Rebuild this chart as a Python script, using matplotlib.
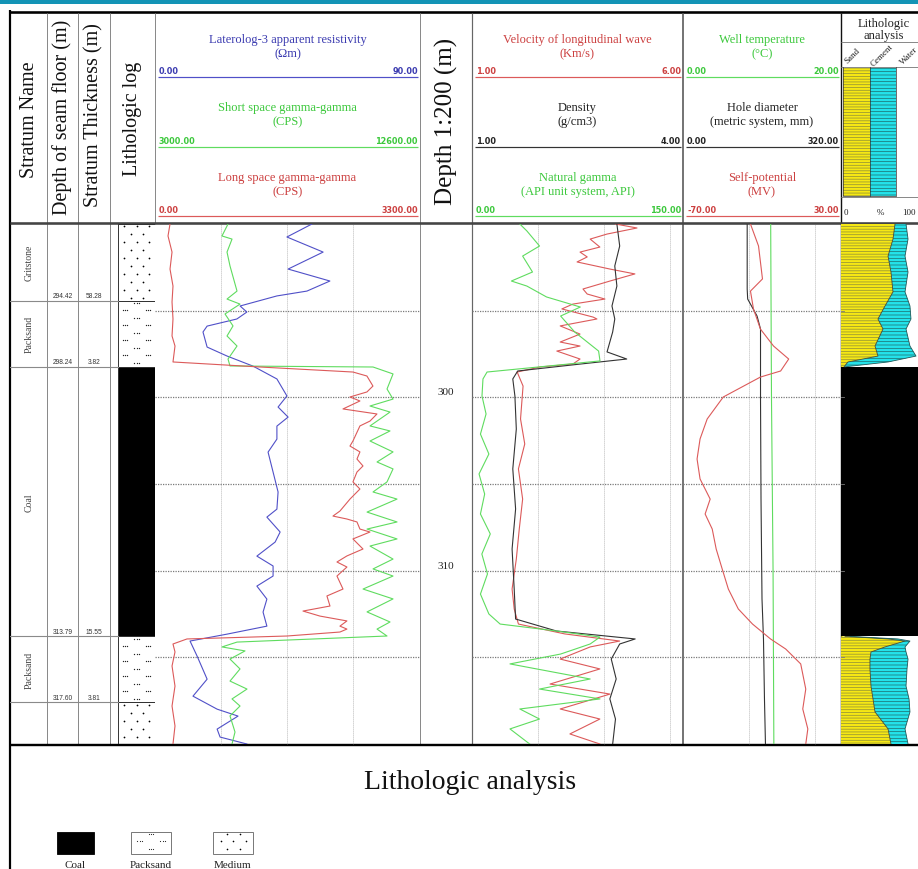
import numpy as np
import matplotlib
matplotlib.use('Agg')
import matplotlib.pyplot as plt
from matplotlib.patches import Rectangle
import matplotlib.transforms as mtransforms

plt.rcParams['font.family'] = ['Liberation Serif', 'DejaVu Serif']
plt.rcParams['hatch.linewidth'] = 0.5

# ---------------------------------------------------------------- data
DEPTH_RANGE = [290.0, 320.0]
GRID_DEPTHS = [295, 300, 305, 310, 315]
DEPTH_LABELS = [300, 310]

STRATA_NAMES = ['Gritstone', 'Packsand', 'Coal', 'Packsand', '']
STRATA_BOTTOM = [294.42, 298.24, 313.79, 317.60, 320.00]
STRATA_THICK = [58.28, 3.82, 15.55, 3.81, None]
STRATA_LITHO = ['Medium', 'Packsand', 'Coal', 'Packsand', 'Medium']
LEGEND_LITHO = ['Coal', 'Packsand', 'Medium']

# Track 1 -------------------------------------------------------------
RES_RANGE = [0.0, 90.0]
RES_DEPTH = [290.0, 290.75, 291.62, 292.6, 293.29, 293.87, 294.15, 294.73, 295.08, 295.48,
             295.89, 296.23, 297.1, 297.62, 298.2, 298.94, 299.92, 300.56, 301.14, 301.66,
             302.41, 303.16, 304.31, 305.46, 306.45, 306.91, 307.77, 308.35, 309.16, 309.73,
             310.31, 310.89, 311.64, 312.39, 313.2, 313.66, 314.06, 314.93, 316.26, 317.24,
             317.99, 318.39, 319.14, 319.6, 320.0]
RES = [53.3, 44.8, 57.1, 45.2, 59.4, 51.6, 41.4, 28.9, 31.2, 27.8,
       17.7, 16.3, 17.7, 24.5, 33.3, 41.4, 44.8, 41.8, 45.2, 41.4,
       41.4, 38.4, 40.1, 41.8, 41.4, 38.0, 42.5, 40.8, 34.6, 40.1,
       40.1, 34.6, 38.0, 36.7, 38.0, 24.5, 11.9, 14.3, 17.7, 12.9,
       21.1, 28.2, 21.1, 22.1, 31.2]

SGG_RANGE = [3000.0, 12600.0]
SGG_DEPTH = [290.0, 290.69, 290.87, 291.62, 292.42, 293.87, 294.33, 294.62, 295.19, 295.88,
             296.46, 297.04, 297.79, 298.19, 298.25, 298.65, 299.52, 300.10, 300.50, 300.85,
             301.65, 301.94, 302.52, 303.15, 303.73, 304.13, 304.88, 305.46, 305.87, 306.62,
             307.19, 307.60, 308.17, 308.58, 309.33, 309.90, 310.31, 311.06, 311.63, 312.38,
             312.96, 313.37, 313.77, 314.12, 314.40, 314.63, 315.10, 315.67, 316.37, 316.83,
             317.40, 317.81, 318.38, 319.31, 320.0]
SGG = [5645, 5427, 5790, 5609, 5717, 5971, 5609, 6080, 5536, 5826,
       5609, 5971, 5645, 5717, 10898, 11623, 11405, 11623, 10789, 11514,
       10789, 11514, 10789, 11623, 11043, 11623, 11405, 10898, 11768, 10681,
       11768, 10681, 11768, 10789, 11623, 10898, 11623, 10536, 11623, 10681,
       11514, 11043, 11405, 5971, 5427, 6261, 5717, 6080, 5717, 6333,
       5790, 6080, 5717, 5898, 5790]

LGG_RANGE = [0.0, 3300.0]
LGG_DEPTH = [290.0, 290.69, 291.62, 292.6, 293.58, 294.5, 295.48, 296.46, 297.04, 297.96,
             298.25, 298.54, 298.77, 299.35, 299.69, 299.98, 300.21, 300.67, 300.96, 301.37,
             301.65, 302.52, 302.81, 303.15, 303.56, 303.96, 304.31, 304.88, 305.29, 305.87,
             306.56, 306.85, 307.02, 307.19, 307.6, 307.77, 308.17, 308.75, 309.15, 309.5,
             309.79, 310.31, 311.06, 311.46, 312.04, 312.33, 312.62, 312.9, 313.2, 313.37,
             313.54, 313.77, 313.94, 314.23, 314.69, 315.5, 316.66, 317.81, 318.96, 320.0]
LGG = [187, 162, 212, 187, 224, 212, 224, 212, 249, 224,
       1307, 2465, 2639, 2714, 2639, 2428, 2552, 2341, 2764, 2677,
       2552, 2465, 2428, 2552, 2515, 2590, 2515, 2465, 2552, 2428,
       2303, 2216, 2390, 2515, 2552, 2677, 2465, 2590, 2390, 2266,
       2390, 2266, 2341, 2141, 2179, 1843, 2054, 2390, 2303, 2390,
       2303, 1643, 398, 224, 249, 212, 249, 212, 249, 224]

# Track 2 -------------------------------------------------------------
VEL_RANGE = [1.0, 6.0]
VEL_DEPTH = [290.0, 290.23, 290.58, 290.87, 291.33, 291.62, 291.9, 292.19, 292.6, 292.88,
             293.29, 293.75, 294.04, 294.33, 294.62, 294.9, 295.37, 295.48, 295.88, 296.35,
             296.81, 297.04, 297.33, 297.79, 298.08, 298.25, 298.54, 299.35, 299.98, 301.25,
             302.69, 304.13, 305.87, 307.6, 309.33, 311.06, 312.21, 313.08, 313.65, 314.06,
             314.4, 315.1, 315.67, 316.54, 317.12, 317.98, 318.56, 319.42, 320.0]
VEL = [4.4, 4.91, 4.2, 3.8, 4.03, 3.56, 3.73, 3.49, 4.27, 4.86,
       4.27, 3.63, 3.73, 4.15, 3.39, 3.13, 3.87, 3.96, 3.09, 3.56,
       3.09, 3.56, 3.01, 3.56, 3.39, 2.61, 2.07, 2.21, 2.19, 2.15,
       2.25, 2.1, 2.2, 2.12, 2.05, 1.95, 2.0, 2.1, 3.2, 4.5,
       3.8, 3.09, 4.03, 2.85, 4.27, 3.09, 4.03, 3.32, 4.03]

DEN_RANGE = [1.0, 4.0]
DEN_DEPTH = [290.0, 291.27, 292.42, 293.58, 294.73, 295.48, 296.23, 297.38, 297.79, 298.08,
             298.48, 298.94, 299.92, 301.83, 304.13, 306.44, 308.75, 311.06, 312.79, 313.48,
             313.94, 314.23, 315.1, 316.25, 317.4, 318.56, 320.0]
DEN = [3.06, 3.1, 3.03, 3.06, 2.99, 3.03, 3.0, 2.92, 3.2, 2.54,
       1.65, 1.58, 1.61, 1.63, 1.58, 1.62, 1.57, 1.6, 1.62, 2.2,
       3.32, 3.1, 2.98, 3.05, 2.96, 3.04, 3.0]

NGR_RANGE = [0.0, 150.0]
NGR_DEPTH = [290.0, 290.4, 291.27, 291.85, 292.77, 293.29, 293.58, 294.21, 294.5, 294.79,
             295.31, 296.23, 297.33, 297.9, 298.54, 298.94, 299.92, 300.96, 302.12, 303.27,
             304.42, 305.58, 306.73, 307.88, 309.04, 310.19, 311.35, 312.5, 313.08, 313.48,
             313.83, 314.23, 314.81, 315.38, 316.25, 316.83, 317.4, 317.98, 318.56, 319.13, 320.0]
NGR = [34, 39, 48, 36, 43, 28, 39, 53, 65, 77,
       63, 73, 90, 91, 10.7, 7.8, 7.1, 10, 6, 12,
       5, 9, 6, 13, 7, 11, 6, 12, 20, 60,
       91, 84, 63, 27, 84, 48, 91, 34, 48, 27, 41]

# Track 3 -------------------------------------------------------------
TMP_RANGE = [0.0, 20.0]
TMP_DEPTH = [290.0, 300.0, 310.0, 320.0]
TMP = [11.1, 11.2, 11.4, 11.5]

CAL_RANGE = [0.0, 320.0]
CAL_DEPTH = [290.0, 293.75, 294.33, 295.31, 296.06, 300.1, 305.87, 311.63, 313.94, 317.4, 320.0]
CAL = [130, 130, 131, 150, 157, 157, 158, 160, 163, 165, 167]

SP_RANGE = [-70.0, 30.0]
SP_DEPTH = [290.0, 291.27, 293.17, 293.87, 294.9, 296.06, 297.04, 297.79, 298.48, 298.83,
            299.98, 301.25, 302.4, 303.56, 304.71, 305.87, 306.73, 307.6, 308.75, 309.9,
            311.06, 312.21, 313.08, 313.94, 314.52, 315.38, 316.83, 317.98, 319.13, 320.0]
SP = [-27.3, -22.2, -19.7, -27.3, -25.4, -21.0, -12.7, -3.1, -8.2, -21.0,
      -44.5, -54.7, -59.2, -61.1, -59.2, -52.8, -56.0, -51.5, -49.0, -45.2,
      -41.3, -35.0, -26.0, -14.6, -5.0, 4.5, 7.7, 5.8, 9.0, 7.7]

# Lithologic analysis (percent) --------------------------------------
LA_RANGE = [0, 100]
LA_TOP_DEPTH = [290.0, 290.87, 291.85, 292.77, 293.92, 294.73, 295.48, 296.06, 297.04, 297.62, 297.96, 298.24]
LA_TOP_SAND = [64.3, 61.9, 56.0, 59.5, 61.9, 52.4, 44.0, 50.0, 40.5, 44.0, 8.3, 3.6]
LA_TOP_CEMENT = [13.1, 17.9, 20.2, 20.3, 14.3, 29.7, 39.3, 27.4, 41.6, 45.3, 47.7, 1.2]
LA_BOT_DEPTH = [313.79, 313.94, 314.06, 314.4, 314.69, 315.1, 315.67, 316.66, 317.4, 318.15, 319.13, 320.0]
LA_BOT_SAND = [4.8, 56.0, 76.2, 52.4, 35.7, 34.5, 34.5, 35.7, 38.1, 40.5, 56.0, 59.5]
LA_BOT_CEMENT = [5.9, 11.9, 5.9, 23.8, 41.7, 45.3, 44.1, 41.7, 42.9, 41.6, 20.2, 20.3]
LA_LABELS = ['Sand', 'Cement', 'Water']

# ---------------------------------------------------------------- style
W, H = 918, 870
BLUE, BLUE_T = '#5050c8', '#3b3bb0'
GREEN, GREEN_T = '#5fdc5f', '#3cc83c'
RED, RED_T = '#dc5a5a', '#cc4040'
BLACK, BLACK_T = '#333333', '#222222'
YELLOW, CYAN = '#f6e814', '#24e2ea'
TOP, BOT = 225, 745


def rect(x0, y0, x1, y1):
    return [x0 / W, 1 - y1 / H, (x1 - x0) / W, (y1 - y0) / H]


fig = plt.figure(figsize=(W / 100, H / 100), dpi=100)
ax0 = fig.add_axes([0, 0, 1, 1], zorder=0)
ax0.set_xlim(0, W)
ax0.set_ylim(H, 0)
ax0.axis('off')


def L(x0, y0, x1, y1, c='k', lw=1.0, ls='-'):
    ax0.plot([x0, x1], [y0, y1], color=c, lw=lw * 0.72, ls=ls, solid_capstyle='butt')


def medium_pattern(ax, x0, top, bot, dy, s=1.6, start=0):
    rows = np.arange(top + dy * 0.3, bot - dy * 0.1, dy)
    for i, y in enumerate(rows):
        if (i + start) % 2 == 0:
            xs = [x0 + 6, x0 + 18.5, x0 + 31]
        else:
            xs = [x0 + 12.5, x0 + 25]
        ax.scatter(xs, [y] * len(xs), s=s, color='k', lw=0, zorder=5)


def packsand_pattern(ax, x0, top, bot, dy, s=0.9, start=0):
    rows = np.arange(top + dy * 0.3, bot - dy * 0.1, dy)
    for i, y in enumerate(rows):
        groups = [x0 + 18.5] if (i + start) % 2 == 0 else [x0 + 7, x0 + 30]
        xs = [g + o for g in groups for o in (-2.2, 0, 2.2)]
        ax.scatter(xs, [y] * len(xs), s=s, color='#222222', lw=0, zorder=5)


# ---------------------------------------------------------------- frame
ax0.add_patch(Rectangle((0, 0), W, 5, color='#1394b6', lw=0))
L(10, 12.5, W, 12.5, lw=2.6)
L(10, 11, 10, H, lw=2.2)
for x in (47, 78, 110, 420):
    L(x, 14, x, BOT, c='#8a8a8a', lw=1.0)
L(155, 14, 155, TOP, c='#8a8a8a', lw=1.0)
L(472, 14, 472, BOT, c='#666666', lw=1.2)
L(683, 14, 683, BOT, c='#555555', lw=1.6)
L(841, 14, 841, BOT, c='#111111', lw=1.4)
L(10, 224, W, 224, c='#444444', lw=2.6)
L(10, 746, W, 746, c='k', lw=2.4)

# left header texts
hdr_kw = dict(rotation=90, ha='center', va='center', color='#111111')
ax0.text(29, 120, 'Stratum Name', fontsize=14.5, **hdr_kw)
ax0.text(62, 117, 'Depth of seam floor (m)', fontsize=14.5, **hdr_kw)
ax0.text(94, 115, 'Stratum Thickness (m)', fontsize=14.5, **hdr_kw)
ax0.text(132, 119, 'Lithologic log', fontsize=14.5, **hdr_kw)
ax0.text(446, 121, 'Depth 1:200 (m)', fontsize=18, **hdr_kw)

# ---------------------------------------------------------------- tracks
TRACKS = [
    (155, 420, [
        ('Laterolog-3 apparent resistivity\n(\u03a9m)', RES_RANGE, RES_DEPTH, RES, BLUE, BLUE_T),
        ('Short space gamma-gamma\n(CPS)', SGG_RANGE, SGG_DEPTH, SGG, GREEN, GREEN_T),
        ('Long space gamma-gamma\n(CPS)', LGG_RANGE, LGG_DEPTH, LGG, RED, RED_T)]),
    (472, 683, [
        ('Velocity of longitudinal wave\n(Km/s)', VEL_RANGE, VEL_DEPTH, VEL, RED, RED_T),
        ('Density\n(g/cm3)', DEN_RANGE, DEN_DEPTH, DEN, BLACK, BLACK_T),
        ('Natural gamma\n(API unit system, API)', NGR_RANGE, NGR_DEPTH, NGR, GREEN, GREEN_T)]),
    (683, 841, [
        ('Well temperature\n(\u00b0C)', TMP_RANGE, TMP_DEPTH, TMP, GREEN, GREEN_T),
        ('Hole diameter\n(metric system, mm)', CAL_RANGE, CAL_DEPTH, CAL, BLACK, BLACK_T),
        ('Self-potential\n(MV)', SP_RANGE, SP_DEPTH, SP, RED, RED_T)]),
]
SLOT_LINE_Y = [78, 148, 217]
SLOT_TITLE_Y = [47, 115, 185]

num_kw = dict(fontsize=5.9, fontweight='bold', family='DejaVu Sans', va='bottom')
for x0, x1, curves in TRACKS:
    ax = fig.add_axes(rect(x0, TOP, x1, BOT), zorder=2)
    ax.set_ylim(DEPTH_RANGE[1], DEPTH_RANGE[0])
    ax.axis('off')
    for d in GRID_DEPTHS:
        ax.axhline(d, color='#7a7a7a', lw=0.9, ls=(0, (1, 1)), zorder=1)
    gx = x0 + 66
    while gx < x1 - 6:
        L(gx, TOP + 1, gx, BOT, c='#9a9a9a', lw=0.8, ls=(0, (1, 1.5)))
        gx += 66
    for k, (title, rng, dep, val, col, tcol) in enumerate(curves):
        cax = ax.twiny()
        cax.set_xlim(*rng)
        cax.axis('off')
        cax.plot(val, dep, color=col, lw=0.8, zorder=3, solid_joinstyle='round')
        ly = SLOT_LINE_Y[k]
        L(x0 + 3, ly, x1 - 2, ly, c=col, lw=1.2)
        ax0.text((x0 + x1) / 2, SLOT_TITLE_Y[k], title, ha='center', va='center',
                 fontsize=9, color=tcol, linespacing=1.2)
        ax0.text(x0 + 4, ly - 2, f'{rng[0]:.2f}', ha='left', color=tcol, **num_kw)
        ax0.text(x1 - 2, ly - 2, f'{rng[1]:.2f}', ha='right', color=tcol, **num_kw)

# depth column
dax = fig.add_axes(rect(420, TOP, 472, BOT), zorder=2)
dax.set_ylim(DEPTH_RANGE[1], DEPTH_RANGE[0])
dax.axis('off')
btr = mtransforms.blended_transform_factory(dax.transAxes, dax.transData)
for d in DEPTH_LABELS:
    dax.text(0.5, d - 0.05, str(d), transform=btr, ha='center', va='bottom',
             fontsize=8, color='#222222')

# ---------------------------------------------------------------- strata
sax = fig.add_axes(rect(10, TOP, 155, BOT), zorder=2)
sax.set_xlim(10, 155)
sax.set_ylim(DEPTH_RANGE[1], DEPTH_RANGE[0])
sax.axis('off')
PX_PER_M = (BOT - TOP) / (DEPTH_RANGE[1] - DEPTH_RANGE[0])
top = DEPTH_RANGE[0]
for name, bot, thick, lith in zip(STRATA_NAMES, STRATA_BOTTOM, STRATA_THICK, STRATA_LITHO):
    if bot < DEPTH_RANGE[1]:
        sax.plot([10, 118], [bot, bot], color='#8a8a8a', lw=0.8)
    if name:
        sax.text(29, (top + bot) / 2, name, rotation=90, ha='center', va='center',
                 fontsize=7, color='#444444')
    if thick is not None:
        sax.text(62.5, bot - 0.08, f'{bot:.2f}', ha='center', va='bottom', fontsize=4.8,
                 family=['Liberation Sans Narrow', 'Liberation Sans'], color='#333333')
        sax.text(94, bot - 0.08, f'{thick:.2f}', ha='center', va='bottom', fontsize=4.8,
                 family=['Liberation Sans Narrow', 'Liberation Sans'], color='#333333')
    if lith == 'Coal':
        sax.add_patch(Rectangle((118, top), 37, bot - top, facecolor='k', edgecolor='k', lw=0.6))
    elif lith == 'Medium':
        medium_pattern(sax, 118, top, bot, 8 / PX_PER_M)
    else:
        packsand_pattern(sax, 118, top, bot, 7.5 / PX_PER_M)
    sax.add_patch(Rectangle((118, top), 37, bot - top, fill=False, edgecolor='#333333', lw=0.7))
    top = bot

# ---------------------------------------------------------------- lithologic analysis
lax = fig.add_axes(rect(841, TOP, 925, BOT), zorder=2)
lax.set_xlim(*LA_RANGE)
lax.set_ylim(DEPTH_RANGE[1], DEPTH_RANGE[0])
lax.axis('off')
for dep, sand, cem in ((LA_TOP_DEPTH, LA_TOP_SAND, LA_TOP_CEMENT),
                       (LA_BOT_DEPTH, LA_BOT_SAND, LA_BOT_CEMENT)):
    sand = np.array(sand)
    cum = sand + np.array(cem)
    lax.fill_betweenx(dep, 0, sand, facecolor=YELLOW, edgecolor='#8a8a3a', hatch='------', lw=0)
    lax.fill_betweenx(dep, sand, cum, facecolor=CYAN, edgecolor='#1d6a6a', hatch='-----', lw=0)
    lax.plot(sand, dep, color='#4a4a2a', lw=0.6)
    lax.plot(cum, dep, color='#1d5a5a', lw=0.6)
ctop = DEPTH_RANGE[0]
for bot, lith in zip(STRATA_BOTTOM, STRATA_LITHO):
    if lith == 'Coal':
        lax.axhspan(ctop, bot, color='k', lw=0)
    ctop = bot
for d in GRID_DEPTHS:
    lax.plot([0, 3], [d, d], color='#7a7a7a', lw=0.6)

# lithologic analysis header
ax0.text(884, 30, 'Lithologic\nanalysis', ha='center', va='center', fontsize=9,
         linespacing=1.0, color='#222222')
L(841, 43, W, 43, c='#8a8a8a', lw=1.0)
L(841, 68, W, 68, c='#8a8a8a', lw=1.0)
L(841, 198, W, 198, c='#8a8a8a', lw=1.0)
for xc, lab in zip((852, 882, 909), LA_LABELS):
    ax0.text(xc, 56, lab, rotation=45, ha='center', va='center', fontsize=6.5, color='#222222')
ax0.add_patch(Rectangle((843, 68), 27, 129, facecolor=YELLOW, edgecolor='#8a8a3a',
                        hatch='------', lw=0))
ax0.add_patch(Rectangle((870, 68), 26, 129, facecolor=CYAN, edgecolor='#1d6a6a',
                        hatch='-----', lw=0))
ax0.plot([843, 843, 896, 896], [68, 197, 197, 68], color='#333333', lw=0.5)
ax0.plot([870, 870], [68, 197], color='#333333', lw=0.5)
ax0.text(846, 213, str(LA_RANGE[0]), ha='center', va='center', fontsize=6.5, color='#222222')
ax0.text(880, 213, '%', ha='center', va='center', fontsize=6.5, color='#222222')
ax0.text(916, 213, str(LA_RANGE[1]), ha='right', va='center', fontsize=6.5, color='#222222')

# ---------------------------------------------------------------- legend
ax0.text(470, 783, 'Lithologic analysis', ha='center', va='center', fontsize=20, color='#111111')
LEG_X = [57, 131, 213]
for lx, lith in zip(LEG_X, LEGEND_LITHO):
    if lith == 'Coal':
        ax0.add_patch(Rectangle((lx, 833), 37, 22, facecolor='k', edgecolor='k', lw=0.6))
        cx = lx + 18.5
    else:
        ax0.add_patch(Rectangle((lx, 833), 40, 22, facecolor='white', edgecolor='#777777', lw=0.7))
        cx = lx + 20
        if lith == 'Medium':
            medium_pattern(ax0, lx + 1.5, 833, 855, 7.3, s=1.4, start=1)
        else:
            packsand_pattern(ax0, lx + 1.5, 833, 855, 7.3, s=0.7, start=0)
    ax0.text(cx, 866, lith, ha='center', va='center', fontsize=8, color='#222222')

fig.savefig('out.png', dpi=100)
